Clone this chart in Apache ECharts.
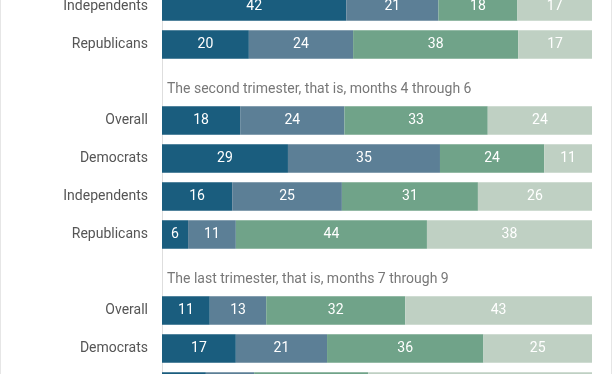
<!DOCTYPE html>
<html>
<head>
<meta charset="utf-8">
<script src="https://cdn.jsdelivr.net/npm/echarts@6/dist/echarts.min.js"></script>
<style>
  html, body { margin: 0; padding: 0; background: #fff; }
  #chart { width: 612px; height: 374px; }
</style>
</head>
<body>
<div id="chart"></div>
<script>
// Rows from top to bottom (the visible part of a taller chart)
const categories = ['Independents', 'Republicans', '', 'Overall', 'Democrats', 'Independents', 'Republicans', '', 'Overall', 'Democrats', 'Independents'];
const sectionTitles = ['', '', 'The second trimester, that is, months 4 through 6', '', '', '', '', 'The last trimester, that is, months 7 through 9', '', '', ''];
const seriesNames = ['Response 1', 'Response 2', 'Response 3', 'Response 4'];
const values1 = [42, 20, null, 18, 29, 16, 6, null, 11, 17, 10];
const values2 = [21, 24, null, 24, 35, 25, 11, null, 13, 21, 11];
const values3 = [18, 38, null, 33, 24, 31, 44, null, 32, 36, 26];
const values4 = [17, 17, null, 24, 11, 26, 38, null, 43, 25, 51];

const colors = ['#1a5d7e', '#5c7f96', '#70a389', '#bfd0c3'];
const allValues = [values1, values2, values3, values4];
const rowSums = categories.map((c, i) => allValues.reduce((s, arr) => s + (arr[i] || 0), 0));

const chart = echarts.init(document.getElementById('chart'), null, { renderer: 'canvas' });

const barSeries = allValues.map((arr, k) => ({
  name: seriesNames[k],
  type: 'bar',
  stack: 'total',
  barWidth: '75%',
  itemStyle: { color: colors[k] },
  label: {
    show: true,
    position: 'inside',
    color: '#ffffff',
    fontFamily: 'Roboto',
    fontSize: 14,
    formatter: p => arr[p.dataIndex] == null ? '' : String(arr[p.dataIndex])
  },
  emphasis: { disabled: true },
  data: arr.map((v, i) => v == null ? null : v / rowSums[i] * 100)
}));

const titleData = sectionTitles.map((t, i) => t ? { value: [0, i], name: t } : null).filter(d => d);

const option = {
  animation: false,
  grid: { left: 162, right: 20, top: -12.5, height: 418, containLabel: false, outerBoundsMode: 'none' },
  xAxis: {
    type: 'value', min: 0, max: 100, show: false
  },
  yAxis: {
    type: 'category',
    inverse: true,
    data: categories,
    axisLine: { show: true, lineStyle: { color: '#dedede', width: 1 } },
    axisTick: { show: false },
    axisLabel: { color: '#555555', fontFamily: 'Roboto', fontSize: 14, margin: 14 }
  },
  series: barSeries.concat([{
    type: 'scatter',
    symbolSize: 0,
    silent: true,
    label: {
      show: true,
      position: 'right',
      distance: 0,
      offset: [5, 7],
      color: '#555555',
      fontFamily: 'Roboto',
      fontSize: 14,
      formatter: p => p.name
    },
    data: titleData
  }]),
  graphic: [
    { type: 'line', shape: { x1: 0.5, y1: 0, x2: 0.5, y2: 374 }, style: { stroke: '#e6e6e6', lineWidth: 1 } },
    { type: 'line', shape: { x1: 611.5, y1: 0, x2: 611.5, y2: 374 }, style: { stroke: '#e6e6e6', lineWidth: 1 } }
  ]
};
chart.setOption(option);
</script>
</body>
</html>
